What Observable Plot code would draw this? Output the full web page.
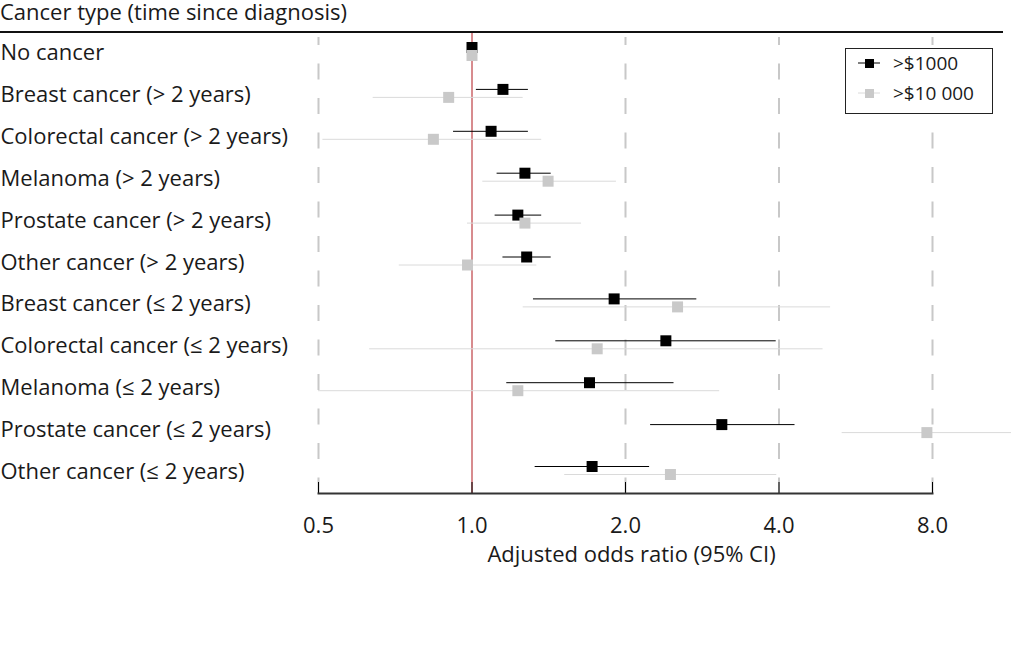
<!DOCTYPE html>
<html>
<head>
<meta charset="utf-8">
<script src="https://cdn.jsdelivr.net/npm/d3@7"></script>
<script src="https://cdn.jsdelivr.net/npm/@observablehq/plot@0.6"></script>
<style>
  html, body { margin: 0; padding: 0; background: #fff; }
  body { width: 1011px; height: 667px; position: relative; overflow: hidden; font-family: "Open Sans", sans-serif; color: #1a1a1a; }
  #title { position: absolute; left: 0; top: 0; font-size: 22px; line-height: 22px; white-space: nowrap; }
  #titlerule { position: absolute; left: 0; top: 31px; width: 1003px; height: 2px; background: #111; }
  #chart { position: absolute; left: 0; top: 32px; }
  #legend { position: absolute; left: 845px; top: 48px; width: 146px; height: 64px; border: 1px solid #222; background: #fff; }
  .item { position: absolute; left: 12px; height: 20px; display: flex; align-items: center; font-size: 19px; white-space: nowrap; }
  .item svg { margin-right: 13px; }
</style>
</head>
<body>
<div id="title"></div>
<div id="titlerule"></div>
<div id="chart"></div>
<div id="legend"></div>
<script>
const categories = [
  "No cancer",
  "Breast cancer (> 2 years)",
  "Colorectal cancer (> 2 years)",
  "Melanoma (> 2 years)",
  "Prostate cancer (> 2 years)",
  "Other cancer (> 2 years)",
  "Breast cancer (≤ 2 years)",
  "Colorectal cancer (≤ 2 years)",
  "Melanoma (≤ 2 years)",
  "Prostate cancer (≤ 2 years)",
  "Other cancer (≤ 2 years)"
];
const series = [">$1000", ">$10 000"];
const or1000  = [1.00, 1.15, 1.09, 1.27, 1.23, 1.28, 1.90, 2.40, 1.70, 3.09, 1.72];
const lo1000  = [1.00, 1.02, 0.92, 1.12, 1.11, 1.15, 1.32, 1.46, 1.17, 2.24, 1.33];
const hi1000  = [1.00, 1.29, 1.29, 1.43, 1.37, 1.43, 2.76, 3.95, 2.49, 4.30, 2.23];
const or10000 = [1.00, 0.90, 0.84, 1.41, 1.27, 0.98, 2.53, 1.76, 1.23, 7.80, 2.45];
const lo10000 = [1.00, 0.64, 0.51, 1.05, 0.98, 0.72, 1.26, 0.63, 0.50, 5.32, 1.52];
const hi10000 = [1.00, 1.26, 1.37, 1.92, 1.64, 1.34, 5.05, 4.88, 3.06, 11.5, 3.96];
const xTicks = [0.5, 1, 2, 4, 8];
const xTickLabels = ["0.5", "1.0", "2.0", "4.0", "8.0"];
const gridTicks = [0.5, 2, 4, 8];
const refValue = [1];
const titleText = "Cancer type (time since diagnosis)";
const xLabel = "Adjusted odds ratio (95% CI)";

const d1000 = categories.map((c, i) => ({cat: c, or: or1000[i], lo: lo1000[i], hi: hi1000[i]}));
const d10000 = categories.map((c, i) => ({cat: c, or: or10000[i], lo: lo10000[i], hi: hi10000[i]}));
const tickData = xTicks.map((t, i) => ({x: t, label: xTickLabels[i]}));

document.getElementById("title").textContent = titleText;

const blackCol = "#000";
const greyDot = "#c9c9c9";
const greyLine = "#dadada";

const chart = Plot.plot({
  width: 1011,
  height: 560,
  marginLeft: 318,
  marginRight: 79,
  marginTop: 5,
  marginBottom: 99,
  style: {fontFamily: "Open Sans, sans-serif", fontSize: "22px", color: "#1a1a1a", background: "transparent", overflow: "visible"},
  x: {type: "log", domain: [0.5, 8], axis: null},
  y: {type: "point", domain: categories, range: [19, 438], padding: 0, round: false, axis: null},
  marks: [
    Plot.ruleX(gridTicks, {x: d => d, stroke: "#c8c8c8", strokeWidth: 2, strokeDasharray: "16,18.5", strokeDashoffset: 8}),
    Plot.ruleX(refValue, {x: d => d, stroke: "#b0191e", strokeWidth: 1, insetTop: -4}),
    Plot.ruleX(xTicks, {x: d => d, stroke: "#000", strokeWidth: 1, insetTop: 445}),
    Plot.frame({anchor: "bottom", stroke: "#333", strokeWidth: 2}),
    Plot.text(tickData, {x: "x", text: "label", frameAnchor: "bottom", lineAnchor: "top", dy: 24, fontSize: 22, fill: "#1a1a1a"}),
    Plot.axisY({tickSize: 0, tickPadding: 0, textAnchor: "start", dx: -318, dy: 1.5, fontSize: 22, label: null}),
    Plot.text([xLabel], {frameAnchor: "bottom", dx: 6, dy: 68, fontSize: 22, fill: "#1a1a1a"}),
    Plot.ruleY(d1000, {y: "cat", x1: "lo", x2: "hi", dy: -4, stroke: blackCol, strokeWidth: 1}),
    Plot.dot(d1000, {x: "or", y: "cat", dy: -4, symbol: "square", r: 6.2, fill: blackCol, stroke: "none"}),
    Plot.ruleY(d10000, {y: "cat", x1: "lo", x2: "hi", dy: 4, stroke: greyLine, strokeWidth: 1}),
    Plot.dot(d10000, {x: "or", y: "cat", dy: 4, symbol: "square", r: 6.2, fill: greyDot, stroke: "none"})
  ]
});
document.getElementById("chart").appendChild(chart);

// legend
const legend = document.getElementById("legend");
const legendColors = [[blackCol, blackCol], [greyLine, greyDot]];
series.forEach((s, i) => {
  const item = document.createElement("div");
  item.className = "item";
  item.style.top = (4 + i * 30) + "px";
  item.innerHTML = `<svg width="22" height="12"><line x1="0" x2="22" y1="6" y2="6" stroke="${legendColors[i][0]}" stroke-width="1"/><rect x="7" y="2" width="9" height="9" fill="${legendColors[i][1]}"/></svg><span></span>`;
  item.querySelector("span").textContent = s;
  legend.appendChild(item);
});
</script>
</body>
</html>
